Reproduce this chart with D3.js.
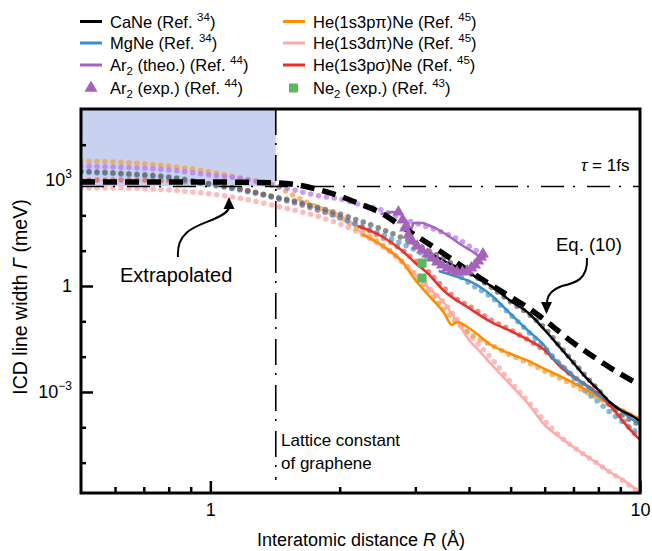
<!DOCTYPE html>
<html><head><meta charset="utf-8">
<script src="https://cdn.jsdelivr.net/npm/d3@7"></script>
<style>
body{margin:0;background:#fff;}
svg{font-family:"Liberation Sans", Arial, Helvetica, sans-serif;}
</style></head><body>
<svg id="chart" width="652" height="551"></svg>
<script>
// ---------------- data ----------------
const fitR = [0.5,0.6,0.8,1.0,1.2,1.42,1.6,1.8,2.0,2.2,2.5,2.8,3.0,3.2,3.5,3.8,4.0,4.5,5.0,5.5,6.0,6.5,7.0,7.5,8.0,8.5,9.0,9.5,10];
const caNeFit = [1800,1580,1220,771,521,330,239,161,109,73.8,41.0,22.8,15.4,10.4,5.81,3.23,2.33,0.937,0.352,0.161,0.0647,0.0200,0.00706,0.00266,0.00114,0.000457,0.000238,0.000161,0.000116];
const mgNeFit = [1690,1480,1140,722,489,310,223,142,84.1,53.3,29.6,15.4,10.4,6.62,3.68,1.92,1.22,0.489,0.151,0.0499,0.0176,0.00620,0.00249,0.00100,0.000521,0.000272,0.000161,0.0000957,0.0000647];
const redFit = [1000,1000,937,771,521,310,209,133,89.7,53.3,24.4,10.4,5.10,2.66,0.878,0.376,0.272,0.109,0.0568,0.0296,0.0145,0.00620,0.00284,0.00148,0.000822,0.000428,0.000196,0.0000896,0.0000467];
const orangeFit = [3450,3240,2490,1690,1070,677,310,161,89.7,41.0,15.4,4.78,1.92,0.771,0.209,0.0787,0.0468,0.0214,0.0111,0.00662,0.00393,0.00249,0.00158,0.00100,0.000676,0.000428,0.000309,0.000223,0.000161];
const pinkFit = [594,594,521,402,290,184,133,89.7,56.9,33.8,13.6,4.78,2.19,1.00,0.330,0.0957,0.0438,0.00917,0.00192,0.000521,0.000151,0.0000568,0.0000277,0.0000154,0.00000917,0.00000543,0.00000345,0.00000218,0.00000138];
const arFitR = [0.5,0.6,0.8,1.0,1.2,1.42,1.6,1.8,2.0,2.2,2.5,2.8,3.0,3.2,3.5,3.8,4.0,4.25];
const arFit = [2490,2330,1920,1390,1070,677,489,352,290,209,142,78.8,60.7,46.8,31.6,20.0,13.6,8.59];

const caNeR = [3.2,3.5,4.0,4.5,5.0,5.5,6.0,6.5,7.0,7.5,8.0,8.5,9.0,9.5,10];
const caNe = [9.17,5.10,2.33,1.00,0.376,0.172,0.0568,0.0188,0.00662,0.00249,0.00114,0.000521,0.000309,0.000223,0.000151];
const mgNeR = [3.4,3.7,4.0,4.5,5.0,5.5,6.0,6.3,6.5,7.0,7.5,8.0,8.5,9.0,9.5,10];
const mgNe = [2.66,1.92,1.39,0.556,0.161,0.0532,0.0200,0.00859,0.00620,0.00284,0.00148,0.000822,0.000521,0.000309,0.000184,0.000124];
const redR = [2.2,2.5,2.8,3.0,3.2,3.5,4.0,4.5,5.0,5.5,6.0,6.5,7.0,7.5,8.0,8.5,9.0,9.5,10];
const red = [49.9,26.0,9.79,4.48,2.33,0.722,0.238,0.0957,0.0532,0.0296,0.0154,0.00544,0.00266,0.00158,0.000877,0.000428,0.000184,0.0000839,0.0000438];
const orangeR = [2.25,2.5,2.8,3.0,3.2,3.5,3.65,3.75,4.0,4.5,5.0,5.5,6.0,6.5,7.0,7.5,8.0,8.5,9.0,9.5,10];
const orange = [29.6,14.5,4.78,1.48,0.594,0.172,0.0787,0.0957,0.0647,0.0214,0.0119,0.00754,0.00448,0.00284,0.00180,0.00114,0.000722,0.000457,0.000330,0.000238,0.000172];
const pinkR = [2.2,2.5,2.8,3.0,3.2,3.5,3.7,3.8,3.9,4.0,4.25,4.5,5.0,5.5,6.0,6.5,7.0,7.5,8.0,8.5,9.0,9.5,10];
const pink = [38.5,14.5,4.78,2.05,0.937,0.330,0.124,0.0787,0.0468,0.0296,0.0135,0.00620,0.00158,0.000457,0.000116,0.0000532,0.0000277,0.0000154,0.00000917,0.00000543,0.00000368,0.00000233,0.00000148];
const arTheoR = [2.49,2.65,2.77,2.87,2.93,2.97,3.13,3.34,3.56,3.81,4.02,4.25];
const arTheo = [109,124,116,64.8,38.5,60.7,60.7,43.8,27.8,15.4,10.4,6.62];
const arExpR = [2.74,2.80,2.84,2.89,2.95,3.03,3.11,3.20,3.28,3.37,3.46,3.56,3.65,3.75,3.86,3.96,4.05,4.13,4.20,4.27,4.31];
const arExp = [124,73.8,43.8,27.8,18.8,13.6,10.4,8.05,6.20,4.78,3.93,3.23,2.84,2.49,2.49,2.66,3.23,3.93,5.10,6.62,8.05];
const ne2R = [3.11,3.11];
const ne2 = [4.48,1.68];
const eq10R = [0.5,1.0,1.42,1.6,1.8,2.0,2.2,2.5,2.8,3.2,3.5,4.0,4.5,5.0,5.5,6.0,7.0,8.0,9.0,10];
const eq10 = [879,879,823,722,521,352,223,116,46.8,16.5,8.05,2.66,1.07,0.489,0.238,0.109,0.0244,0.00804,0.00323,0.00158];
const tauGamma = 658;     // Gamma for tau = 1 fs (meV)
const grapheneR = 1.42;   // lattice constant position (Å)
const xMajor = [1,10];
const xMinor = [0.6,0.7,0.8,0.9,2,3,4,5,6,7,8,9];
const yMajor = [1e3,1,1e-3];
const yMinor = [1e4,1e2,1e1,1e-1,1e-2,1e-4,1e-5];

// ---------------- setup ----------------
const svg = d3.select("#chart");
const L=81,R=640,T=109,B=493;
const x = d3.scaleLog().domain([0.5,10]).range([L,R]);
const y = d3.scaleLog().domain([Math.pow(10,-5.86), Math.pow(10,5.01)]).range([B,T]);

svg.append("defs").append("clipPath").attr("id","clip")
  .append("rect").attr("x",L).attr("y",T).attr("width",R-L).attr("height",B-T);
const g = svg.append("g").attr("clip-path","url(#clip)");

const zip = (xs,ys)=>xs.map((v,i)=>[v,ys[i]]);
const lineM = d3.line().x(d=>x(d[0])).y(d=>y(d[1])).curve(d3.curveMonotoneX);
const lineL = d3.line().x(d=>x(d[0])).y(d=>y(d[1]));

// shaded region
g.append("rect").attr("x",x(0.5)).attr("y",T)
  .attr("width",x(grapheneR)-x(0.5)).attr("height",y(tauGamma)-T)
  .attr("fill","#c9d1f1");

// dotted fits
const fits = [
  {r:fitR, v:pinkFit, c:"#ffaaaa", o:0.8},
  {r:fitR, v:orangeFit, c:"#f5a040", o:0.75},
  {r:fitR, v:redFit, c:"#e8554d", o:0.7},
  {r:fitR, v:mgNeFit, c:"#4b98cc", o:0.7},
  {r:fitR, v:caNeFit, c:"#666666", o:0.75},
  {r:arFitR, v:arFit, c:"#b07cf0", o:0.75}
];
fits.forEach(f=>{
  g.append("path").attr("d",lineM(zip(f.r,f.v))).attr("fill","none")
   .attr("stroke",f.c).attr("stroke-opacity",f.o).attr("stroke-width",5.5)
   .attr("stroke-linecap","round").attr("stroke-dasharray","0 8");
});

// solid lines
const lines = [
  {r:pinkR, v:pink, c:"#ffaaaa"},
  {r:orangeR, v:orange, c:"#ff8c00"},
  {r:redR, v:red, c:"#e8312a"},
  {r:mgNeR, v:mgNe, c:"#3d8ec6"},
  {r:caNeR, v:caNe, c:"#000000"}
];
lines.forEach(f=>{
  g.append("path").attr("d",lineM(zip(f.r,f.v))).attr("fill","none")
   .attr("stroke",f.c).attr("stroke-width",2.5).attr("stroke-linejoin","round");
});
g.append("path").attr("d",lineL(zip(arTheoR,arTheo))).attr("fill","none")
 .attr("stroke","#a566c0").attr("stroke-width",2.5).attr("stroke-linejoin","round");

// tau line and graphene line
g.append("line").attr("x1",L).attr("x2",R).attr("y1",y(tauGamma)).attr("y2",y(tauGamma))
 .attr("stroke","#000").attr("stroke-width",1.6).attr("stroke-dasharray","23 9 2 12");
svg.append("line").attr("x1",x(grapheneR)).attr("x2",x(grapheneR)).attr("y1",T).attr("y2",480)
 .attr("stroke","#000").attr("stroke-width",1.6).attr("stroke-dasharray","26 8 2 10");

// Eq. (10)
g.append("path").attr("d",lineM(zip(eq10R,eq10))).attr("fill","none")
 .attr("stroke","#000").attr("stroke-width",5.5).attr("stroke-dasharray","14 8");

// markers
g.selectAll(".tri").data(zip(arExpR,arExp)).enter().append("path")
 .attr("d",d3.symbol(d3.symbolTriangle,62)())
 .attr("transform",d=>`translate(${x(d[0])},${y(d[1])})`)
 .attr("fill","#a463b9");
g.selectAll(".sq").data(zip(ne2R,ne2)).enter().append("rect")
 .attr("x",d=>x(d[0])-4.5).attr("y",d=>y(d[1])-4.5).attr("width",9).attr("height",9)
 .attr("fill","#5cb85c");

// ---------------- axes ----------------
const fs=18;
const ax = svg.append("g").attr("transform",`translate(0,${B})`)
  .call(d3.axisBottom(x).tickValues(xMajor).tickSize(-12).tickPadding(10).tickFormat(d3.format("d")));
const axm = svg.append("g").attr("transform",`translate(0,${B})`)
  .call(d3.axisBottom(x).tickValues(xMinor).tickSize(-6).tickFormat(""));
const ay = svg.append("g").attr("transform",`translate(${L},0)`)
  .call(d3.axisLeft(y).tickValues(yMajor).tickSize(-12).tickPadding(9).tickFormat(""));
const aym = svg.append("g").attr("transform",`translate(${L},0)`)
  .call(d3.axisLeft(y).tickValues(yMinor).tickSize(-5).tickFormat(""));
[ax,axm,ay,aym].forEach(a=>{a.select(".domain").remove(); a.selectAll("line").attr("stroke","#000").attr("stroke-width",2.5);});
ax.selectAll("text").attr("font-size",fs).attr("fill","#000").attr("font-family","Liberation Sans, Arial, sans-serif");
// y labels with superscripts
ay.selectAll(".tick").each(function(d){
  const t = d3.select(this).select("text").attr("font-size",fs).attr("fill","#000")
    .attr("font-family","Liberation Sans, Arial, sans-serif");
  const e = Math.round(Math.log10(d));
  if(e===0){ t.text("1"); }
  else { t.text("10"); t.append("tspan").attr("font-size",12).attr("dy",-8).text(e<0?"\u2212"+(-e):String(e)); }
});

// frame
svg.append("rect").attr("x",L).attr("y",T).attr("width",R-L).attr("height",B-T)
 .attr("fill","none").attr("stroke","#000").attr("stroke-width",3);

// axis titles
const xt = svg.append("text").attr("x",361).attr("y",546).attr("text-anchor","middle").attr("font-size",18);
xt.append("tspan").text("Interatomic distance ");
xt.append("tspan").attr("font-style","italic").text("R");
xt.append("tspan").text(" (Å)");
const yt = svg.append("text").attr("transform","translate(27,297) rotate(-90)").attr("text-anchor","middle").attr("font-size",19.5);
yt.append("tspan").text("ICD line width ");
yt.append("tspan").attr("font-style","italic").text("Γ");
yt.append("tspan").text(" (meV)");

// ---------------- legend ----------------
function rich(sel, parts){
  let shift=0;
  parts.forEach(p=>{
    const ts = sel.append("tspan").text(p.t);
    let target = p.sup?-7:(p.sub?4:0);
    if(target!==shift){ ts.attr("dy",target-shift); shift=target; }
    if(p.sup||p.sub) ts.attr("font-size",11.5);
  });
}
const legendItems = [
  {col:0,row:0,type:"line",c:"#000000",parts:[{t:"CaNe (Ref. "},{t:"34",sup:1},{t:")"}]},
  {col:0,row:1,type:"line",c:"#3d8ec6",parts:[{t:"MgNe (Ref. "},{t:"34",sup:1},{t:")"}]},
  {col:0,row:2,type:"line",c:"#a566c0",parts:[{t:"Ar"},{t:"2",sub:1},{t:" (theo.) (Ref. "},{t:"44",sup:1},{t:")"}]},
  {col:0,row:3,type:"tri",c:"#a463b9",parts:[{t:"Ar"},{t:"2",sub:1},{t:" (exp.) (Ref. "},{t:"44",sup:1},{t:")"}]},
  {col:1,row:0,type:"line",c:"#ff8c00",parts:[{t:"He(1s3pπ)Ne (Ref. "},{t:"45",sup:1},{t:")"}]},
  {col:1,row:1,type:"line",c:"#ffaaaa",parts:[{t:"He(1s3dπ)Ne (Ref. "},{t:"45",sup:1},{t:")"}]},
  {col:1,row:2,type:"line",c:"#e8312a",parts:[{t:"He(1s3pσ)Ne (Ref. "},{t:"45",sup:1},{t:")"}]},
  {col:1,row:3,type:"sq",c:"#5cb85c",parts:[{t:"Ne"},{t:"2",sub:1},{t:" (exp.) (Ref. "},{t:"43",sup:1},{t:")"}]}
];
const colX=[80,283], rowY=[21.5,43,65,88];
legendItems.forEach(it=>{
  const x0=colX[it.col], yc=rowY[it.row];
  if(it.type==="line") svg.append("line").attr("x1",x0).attr("x2",x0+22).attr("y1",yc).attr("y2",yc).attr("stroke",it.c).attr("stroke-width",3);
  else if(it.type==="tri") svg.append("path").attr("d",d3.symbol(d3.symbolTriangle,75)()).attr("transform",`translate(${x0+11},${yc})`).attr("fill",it.c);
  else svg.append("rect").attr("x",x0+6).attr("y",yc-4.5).attr("width",9).attr("height",9).attr("fill",it.c);
  const t = svg.append("text").attr("x",x0+30).attr("y",yc+6).attr("font-size",16.5);
  rich(t,it.parts);
});

// ---------------- annotations ----------------
svg.append("text").attr("x",120).attr("y",282).attr("font-size",20).text("Extrapolated");
svg.append("path").attr("d","M178,257 C176,230 198,226 214,219 C225,214 229,211 229,207").attr("fill","none").attr("stroke","#000").attr("stroke-width",2);
svg.append("path").attr("d","M229,197 L234.5,209 L223.5,209 Z").attr("fill","#000");
svg.append("text").attr("x",556).attr("y",251).attr("font-size",18.5).text("Eq. (10)");
svg.append("path").attr("d","M587,258 C588,280 575,283 562,286 C551,290 547,296 547,303").attr("fill","none").attr("stroke","#000").attr("stroke-width",2);
svg.append("path").attr("d","M546.5,314 L541,302 L552,302 Z").attr("fill","#000");
const tau = svg.append("text").attr("x",581).attr("y",171).attr("font-size",17);
tau.append("tspan").attr("font-style","italic").text("τ");
tau.append("tspan").text(" = 1fs");
svg.append("text").attr("x",281).attr("y",446).attr("font-size",17).text("Lattice constant");
svg.append("text").attr("x",281).attr("y",469).attr("font-size",17).text("of graphene");
</script>
</body></html>
